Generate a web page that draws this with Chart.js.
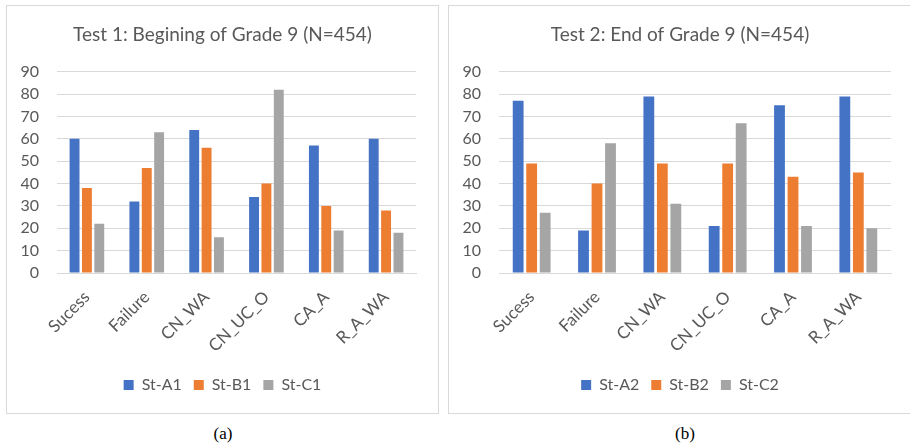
<!DOCTYPE html>
<html>
<head>
<meta charset="utf-8">
<script src="https://cdn.jsdelivr.net/npm/chart.js@4"></script>
<style>
  body { margin: 0; background: #fff; width: 910px; height: 448px; position: relative; overflow: hidden; }
  .panel { position: absolute; top: 5px; height: 409px; border: 1px solid #d9d9d9; box-sizing: border-box; }
  .caption { position: absolute; top: 424px; font-family: "Liberation Serif", serif; font-size: 17px; color: #000; width: 40px; text-align: center; }
</style>
</head>
<body>
<div class="panel" style="left:6px; width:433px;"><canvas id="chartA" width="431" height="407"></canvas></div>
<div class="panel" style="left:448px; width:464px;"><canvas id="chartB" width="462" height="407"></canvas></div>
<div class="caption" style="left:203px;">(a)</div>
<div class="caption" style="left:665px;">(b)</div>
<script>
const categories = ['Sucess', 'Failure', 'CN_WA', 'CN_UC_O', 'CA_A', 'R_A_WA'];

// Test 1
const stA1 = [60, 32, 64, 34, 57, 60];
const stB1 = [38, 47, 56, 40, 30, 28];
const stC1 = [22, 63, 16, 82, 19, 18];

// Test 2
const stA2 = [77, 19, 79, 21, 75, 79];
const stB2 = [49, 40, 49, 49, 43, 45];
const stC2 = [27, 58, 31, 67, 21, 20];

const yTicks = [0, 10, 20, 30, 40, 50, 60, 70, 80, 90];

const colors = ['#4472C4', '#ED7D31', '#A5A5A5'];
const textColor = '#595959';
const font = 'Lato, "Open Sans", sans-serif';

const makeChart = (id, title, series, names, rightGap) => {
  const ctx = document.getElementById(id).getContext('2d');
  return new Chart(ctx, {
    type: 'bar',
    data: {
      labels: categories,
      datasets: series.map((s, i) => ({
        label: names[i],
        data: s,
        backgroundColor: colors[i],
        borderWidth: 0,
        categoryPercentage: 0.62,
        barPercentage: 0.8
      }))
    },
    options: {
      responsive: false,
      animation: false,
      layout: { padding: { left: 0, right: 0, top: 0, bottom: 10 } },
      plugins: {
        title: {
          display: true,
          text: title,
          color: textColor,
          font: { family: font, size: 19, weight: 'normal' },
          padding: { top: 17, bottom: 26 }
        },
        legend: {
          position: 'bottom',
          labels: {
            color: textColor,
            font: { family: font, size: 16 },
            boxWidth: 10,
            boxHeight: 10,
            padding: 12
          }
        },
        tooltip: { enabled: false }
      },
      scales: {
        y: {
          min: 0,
          max: yTicks[yTicks.length - 1],
          afterFit: (scale) => { scale.width = 50; },
          afterBuildTicks: (scale) => { scale.ticks = yTicks.map(v => ({ value: v })); },
          ticks: { color: textColor, font: { family: font, size: 16 }, padding: 18 },
          grid: { color: '#d9d9d9', drawTicks: false },
          border: { display: false }
        },
        // empty right-hand axis, only keeps a gap to the right of the plot
        yGap: {
          position: 'right',
          afterFit: (scale) => { scale.width = rightGap; },
          ticks: { display: false },
          grid: { display: false, drawTicks: false },
          border: { display: false }
        },
        x: {
          afterFit: (scale) => { scale.height = 92; },
          ticks: {
            color: textColor,
            font: { family: font, size: 17 },
            maxRotation: 45,
            minRotation: 45,
            padding: 14
          },
          grid: { display: false, drawTicks: false },
          border: { color: '#d9d9d9' }
        }
      }
    }
  });
};

makeChart('chartA', 'Test 1: Begining of Grade 9 (N=454)', [stA1, stB1, stC1], ['St-A1', 'St-B1', 'St-C1'], 22);
makeChart('chartB', 'Test 2: End of Grade 9 (N=454)', [stA2, stB2, stC2], ['St-A2', 'St-B2', 'St-C2'], 20);
</script>
</body>
</html>
